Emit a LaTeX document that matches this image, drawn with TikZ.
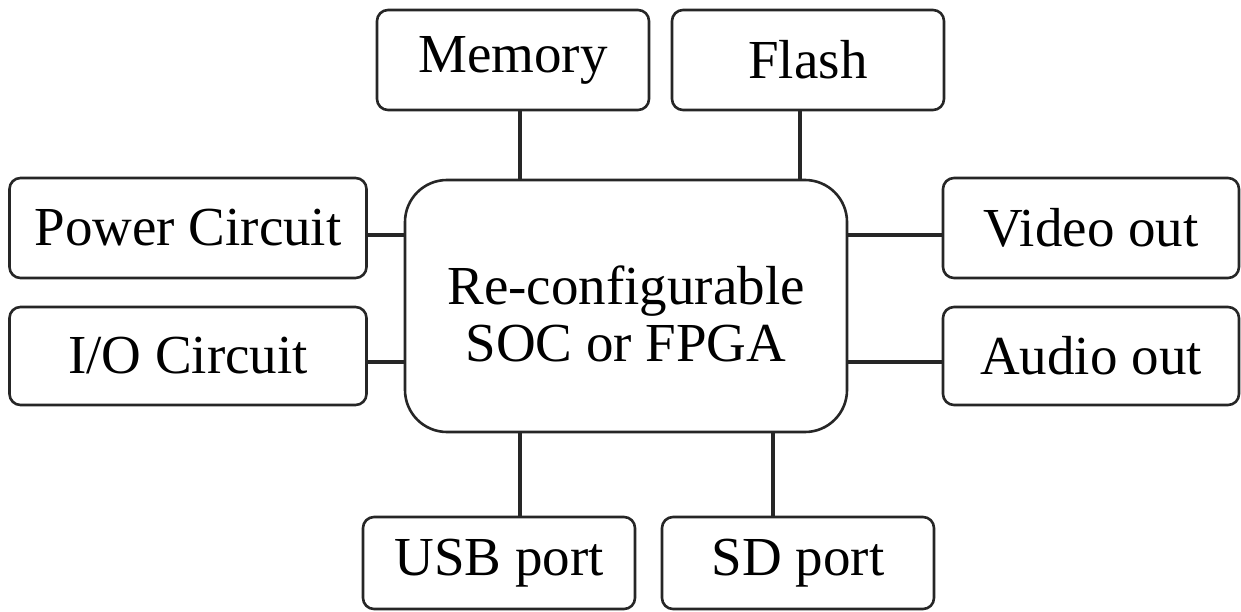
\documentclass[tikz,border=0pt]{standalone}
\usepackage{fontspec}
\setmainfont{Liberation Serif}
\begin{document}
\begin{tikzpicture}[x=1pt,y=-1pt,
  box/.style={draw=black!85, line width=2.6pt, rounded corners=11pt, fill=white, inner sep=0pt,
    font=\fontsize{55}{66}\selectfont},
  link/.style={draw=black!85, line width=3.6pt}]
\useasboundingbox (0,0) rectangle (1241,612);
\node[box, minimum width=442pt, minimum height=252pt, rounded corners=42pt,
  label={[font=\fontsize{55}{57}\selectfont, align=center, yshift=-8pt]center:Re-configurable\\SOC or FPGA}] (soc) at (626,306) {};
\node[box, minimum width=272pt, minimum height=100pt] (mem) at (513,60) {Memory};
\node[box, minimum width=272pt, minimum height=100pt] (flash) at (808,60) {Flash};
\node[box, minimum width=357pt, minimum height=100pt] (pow) at (188,228) {Power Circuit};
\node[box, minimum width=357pt, minimum height=98pt] (io) at (188,356) {I/O Circuit};
\node[box, minimum width=296pt, minimum height=100pt] (vid) at (1091,228) {Video out};
\node[box, minimum width=296pt, minimum height=98pt] (aud) at (1091,356) {Audio out};
\node[box, minimum width=272pt, minimum height=92pt] (usb) at (499,563) {USB port};
\node[box, minimum width=272pt, minimum height=92pt] (sd) at (798,563) {SD port};
\draw[link] ([xshift=7pt]mem.south) -- ([xshift=7pt]soc.north -| mem.south);
\draw[link] ([xshift=-8pt]flash.south) -- ([xshift=-8pt]soc.north -| flash.south);
\draw[link] ([yshift=-7pt]pow.east) -- ([yshift=-7pt]soc.west |- pow.east);
\draw[link] ([yshift=-6pt]io.east) -- ([yshift=-6pt]soc.west |- io.east);
\draw[link] ([yshift=-7pt]vid.west) -- ([yshift=-7pt]soc.east |- vid.west);
\draw[link] ([yshift=-6pt]aud.west) -- ([yshift=-6pt]soc.east |- aud.west);
\draw[link] ([xshift=21pt]usb.north) -- ([xshift=21pt]soc.south -| usb.north);
\draw[link] ([xshift=-25pt]sd.north) -- ([xshift=-25pt]soc.south -| sd.north);
\end{tikzpicture}
\end{document}
